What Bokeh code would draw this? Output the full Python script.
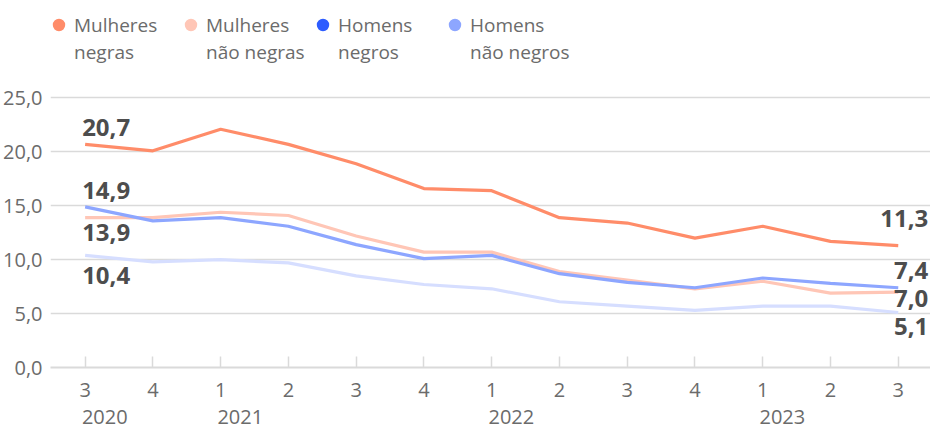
from bokeh.plotting import figure
from bokeh.models import (ColumnDataSource, Range1d, FixedTicker, LinearAxis,
                          Legend, LegendItem, Grid)
from bokeh.core.properties import value
from bokeh.embed import file_html
from bokeh.resources import INLINE

# ---------------- data ----------------
quarters = ["3", "4", "1", "2", "3", "4", "1", "2", "3", "4", "1", "2", "3"]
years = ["2020", "2021", "2022", "2023"]
year_first_index = [0, 2, 6, 10]
names_line1 = ["Mulheres", "Mulheres", "Homens", "Homens"]
names_line2 = ["negras", "não negras", "negros", "não negros"]
mulheres_negras = [20.7, 20.1, 22.1, 20.7, 18.9, 16.6, 16.4, 13.9, 13.4, 12.0, 13.1, 11.7, 11.3]
mulheres_nao_negras = [13.9, 13.9, 14.4, 14.1, 12.2, 10.7, 10.7, 8.9, 8.1, 7.3, 8.0, 6.9, 7.0]
homens_negros = [14.9, 13.6, 13.9, 13.1, 11.4, 10.1, 10.4, 8.7, 7.9, 7.4, 8.3, 7.8, 7.4]
homens_nao_negros = [10.4, 9.8, 10.0, 9.7, 8.5, 7.7, 7.3, 6.1, 5.7, 5.3, 5.7, 5.7, 5.1]
y_ticks = [0, 5, 10, 15, 20, 25]

# ---------------- styles ----------------
FONT = "Open Sans"
line_colors = ["#ff8c69", "#ffc6b6", "#8da6ff", "#d6deff"]
legend_colors = ["#ff8c69", "#ffc6b6", "#2d5cff", "#8da6ff"]
draw_order = [3, 1, 2, 0]
first_label_offsets = [-17.1, 15.3, -16.3, 20.3]
last_label_offsets = [-27.1, 6.6, -17.1, 13.8]
TEXT_GREY = "#6b6b6b"
LABEL_GREY = "#4d4d4d"
GRID = "#dadada"

series = [mulheres_negras, mulheres_nao_negras, homens_negros, homens_nao_negros]
x = list(range(len(quarters)))

p = figure(width=930, height=430, output_backend="svg", toolbar_location=None,
           x_range=Range1d(-0.511, 12.476), y_range=Range1d(0, 33.3),
           min_border_left=48, min_border_right=0, min_border_top=8,
           min_border_bottom=63, x_axis_type=None, y_axis_type=None,
           outline_line_color=None, background_fill_color="white",
           border_fill_color="white")

# y axis
yax = LinearAxis(ticker=FixedTicker(ticks=y_ticks))
yax.major_label_overrides = {t: f"{t:.1f}".replace(".", ",") for t in y_ticks}
yax.axis_line_color = None
yax.major_tick_line_color = None
yax.minor_tick_line_color = None
yax.major_label_standoff = 2
yax.major_label_text_font = FONT
yax.major_label_text_font_size = "20px"
yax.major_label_text_color = TEXT_GREY
p.add_layout(yax, "left")

# x axis (quarters)
xax = LinearAxis(ticker=FixedTicker(ticks=x))
xax.major_label_overrides = {i: q for i, q in zip(x, quarters)}
xax.axis_line_color = GRID
xax.axis_line_width = 2
xax.major_tick_line_color = GRID
xax.major_tick_line_width = 1.5
xax.major_tick_in = 11
xax.major_tick_out = 0
xax.minor_tick_line_color = None
xax.major_label_standoff = 15
xax.major_label_text_font = FONT
xax.major_label_text_font_size = "20px"
xax.major_label_text_color = TEXT_GREY
p.add_layout(xax, "below")

# x axis (years), labels start at the first quarter of each year
year_shift = 0.29
year_ticks = [i + year_shift for i in year_first_index]
yrax = LinearAxis(ticker=FixedTicker(ticks=year_ticks))
yrax.major_label_overrides = {t: y for t, y in zip(year_ticks, years)}
yrax.axis_line_color = None
yrax.major_tick_line_color = None
yrax.minor_tick_line_color = None
yrax.major_tick_in = 0
yrax.major_tick_out = 0
yrax.major_label_standoff = 10
yrax.major_label_text_font = FONT
yrax.major_label_text_font_size = "20px"
yrax.major_label_text_color = TEXT_GREY
p.add_layout(yrax, "below")

# grid
p.add_layout(Grid(dimension=1, ticker=FixedTicker(ticks=y_ticks),
                  grid_line_color=GRID, grid_line_width=1.5))

# lines
for k in draw_order:
    p.line(x, series[k], line_color=line_colors[k], line_width=3.2)

# legend: first line with swatches, second line with hidden swatches
items1, items2 = [], []
for k in range(len(series)):
    r_sw = p.scatter(x, series[k], size=10, fill_color=legend_colors[k],
                     line_color=None, visible=False)
    r_hid = p.scatter(x, series[k], size=10, fill_alpha=0, line_alpha=0, visible=False)
    items1.append(LegendItem(label=names_line1[k], renderers=[r_sw]))
    items2.append(LegendItem(label=names_line2[k], renderers=[r_hid]))

LEG_TOP_FROM_BOTTOM = 358   # screen px from frame bottom to legend top
common = dict(orientation="horizontal", margin=0, padding=0,
              spacing=0, glyph_width=31, label_standoff=0, label_width=101,
              border_line_color=None, background_fill_alpha=0,
              inactive_fill_alpha=0, label_text_font=FONT,
              label_text_font_size="19px", label_text_color=TEXT_GREY)
legend1 = Legend(items=items1, glyph_height=31,
                 location=(-7, LEG_TOP_FROM_BOTTOM - 31), **common)
legend2 = Legend(items=items2, glyph_height=85,
                 location=(-7, LEG_TOP_FROM_BOTTOM - 85), **common)
p.add_layout(legend1, "center")
p.add_layout(legend2, "center")

# end labels
def fmt(v):
    return f"{v:.1f}".replace(".", ",")

first = ColumnDataSource(dict(
    x=[x[0]] * 4, y=[s[0] for s in series], t=[fmt(s[0]) for s in series],
    off=first_label_offsets))
last = ColumnDataSource(dict(
    x=[x[-1]] * 4, y=[s[-1] for s in series], t=[fmt(s[-1]) for s in series],
    off=last_label_offsets))
p.text(x="x", y="y", text="t", source=first, x_offset=-3, y_offset="off",
       text_align="left", text_baseline="alphabetic", text_font=value(FONT),
       text_font_size="24px", text_font_style="bold", text_color=LABEL_GREY)
p.text(x="x", y="y", text="t", source=last, x_offset=30, y_offset="off",
       text_align="right", text_baseline="alphabetic", text_font=value(FONT),
       text_font_size="24px", text_font_style="bold", text_color=LABEL_GREY)

open("out.html", "w").write(file_html(p, INLINE))
